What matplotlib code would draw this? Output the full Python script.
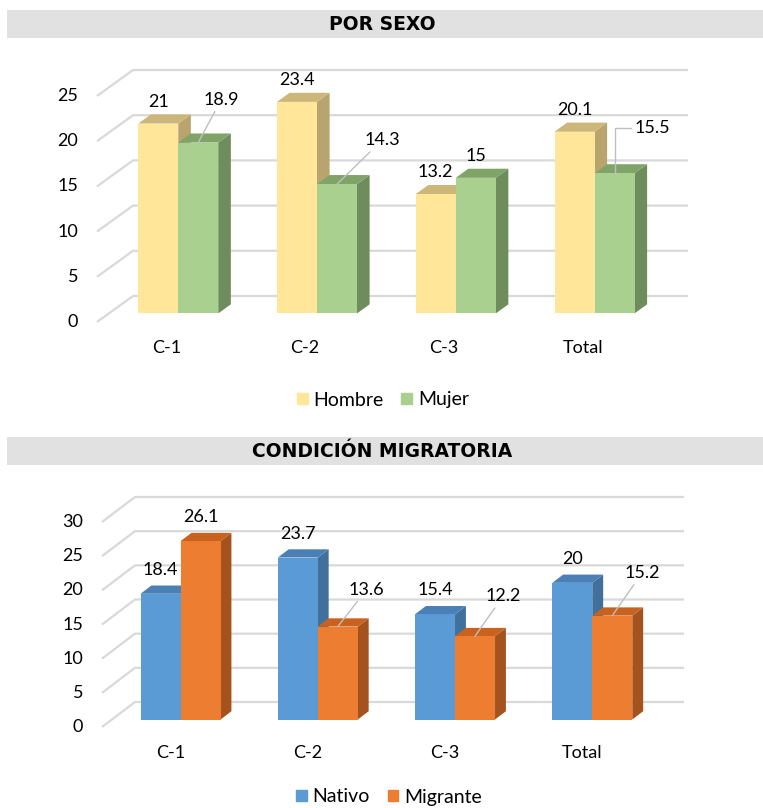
import matplotlib
matplotlib.use('Agg')
import matplotlib.pyplot as plt
from matplotlib.patches import Polygon, Rectangle, Patch

plt.rcParams['font.family'] = ['Lato', 'DejaVu Sans']

W, H = 763, 808

categories = ['C-1', 'C-2', 'C-3', 'Total']

# Por sexo
sexo_names = ['Hombre', 'Mujer']
hombre = [21, 23.4, 13.2, 20.1]
mujer = [18.9, 14.3, 15, 15.5]
sexo_ticks = [0, 5, 10, 15, 20, 25]

# Condicion migratoria
migr_names = ['Nativo', 'Migrante']
nativo = [18.4, 23.7, 15.4, 20]
migrante = [26.1, 13.6, 12.2, 15.2]
migr_ticks = [0, 5, 10, 15, 20, 25, 30]

# (front, top, side)
sexo_colors = [('#ffe699', '#cdb67a', '#b8a46c'), ('#a9d08e', '#80a468', '#6e8c5c')]
migr_colors = [('#5b9bd5', '#4a80b5', '#41709c'), ('#ed7d31', '#c8621e', '#a5531e')]

GRID = '#d9d9d9'
LEADER = '#bfbfbf'


def draw_panel(fig, title, band, box, depth, d0, d1, ticks, values, names, colors,
               leaders, lab_up, legend_xy):
    # grey title band
    fig.add_artist(Rectangle((7 / W, 1 - band[1] / H), (W - 7) / W, (band[1] - band[0]) / H,
                             transform=fig.transFigure, color='#e1e1e1', lw=0))
    fig.text(382 / W, 1 - (band[0] + band[1]) / 2 / H, title, ha='center', va='center',
             fontsize=13.5, fontweight='bold', family='DejaVu Sans')

    # box: front-left x, back-top y, back-right x, front-bottom y (pixels)
    x0, y0, x1, y1 = box
    ax = fig.add_axes([x0 / W, 1 - y1 / H, (x1 - x0) / W, (y1 - y0) / H])
    n = len(categories)
    ppx = (x1 - x0 - depth[0]) / n
    ppy = (y1 - y0 - depth[1]) / ticks[-1]
    DX = depth[0] / ppx
    DY = depth[1] / ppy
    ax.set_xlim(-0.5, n - 0.5 + DX)
    ax.set_ylim(0, ticks[-1] + DY)
    ax.axis('off')

    # back wall gridlines + side diagonals
    for t in ticks:
        ax.plot([-0.5, -0.5 + DX, n - 0.5 + DX], [t, t + DY, t + DY], color=GRID, lw=1.6,
                zorder=1, clip_on=False, solid_capstyle='butt')
        ax.annotate(str(t), (-0.5, t), xytext=(-19, 0), textcoords='offset pixels',
                    ha='right', va='center', fontsize=13)

    w = 40 / ppx
    ddx = (d1 - d0) * DX
    ddy = (d1 - d0) * DY
    yb = d0 * DY
    for i in range(n):
        for k, vals in enumerate(values):
            v = vals[i]
            xl = i - w + k * w + d0 * DX
            xr = xl + w
            yt = v + yb
            front, top, side = colors[k]
            ax.add_patch(Polygon([(xr, yb), (xr + ddx, yb + ddy), (xr + ddx, yt + ddy), (xr, yt)],
                                 closed=True, facecolor=side, edgecolor='none', zorder=2))
            ax.add_patch(Polygon([(xl, yt), (xr, yt), (xr + ddx, yt + ddy), (xl + ddx, yt + ddy)],
                                 closed=True, facecolor=top, edgecolor='none', zorder=2))
            ax.bar(xl, v, width=w, bottom=yb, align='edge', color=front, zorder=2)

            bx = xl + w / 2
            off = leaders.get((k, i))
            if off is None:
                ax.annotate(f'{v:g}', (bx, yt), xytext=(0, lab_up), textcoords='offset pixels',
                            ha='center', va='center', fontsize=13, zorder=5)
            else:
                dx, dy, style = off
                ax.annotate(f'{v:g}', (bx, yt), xytext=(dx, dy), textcoords='offset pixels',
                            ha='center', va='center', fontsize=13, zorder=5,
                            arrowprops=dict(arrowstyle='-', color=LEADER, lw=1,
                                            shrinkA=1, shrinkB=0, connectionstyle=style))

    for i, c in enumerate(categories):
        ax.annotate(c, (i, 0), xytext=(0, -26), textcoords='offset pixels',
                    ha='center', va='center', fontsize=13)

    handles = [Patch(color=col[0]) for col in colors]
    fig.legend(handles, names, loc='center', bbox_to_anchor=(legend_xy[0] / W, 1 - legend_xy[1] / H),
               ncol=2, frameon=False, fontsize=14, handlelength=0.55, handleheight=0.55,
               handletextpad=0.3, columnspacing=0.9, borderpad=0)


fig = plt.figure(figsize=(W / 100, H / 100), dpi=100)

draw_panel(fig, 'POR SEXO', (10, 38), (97, 70, 688, 322), (36, 26), 0.33, 0.68,
           sexo_ticks, [hombre, mujer], sexo_names, sexo_colors,
           {(1, 0): (23, 43, 'arc3'), (1, 1): (45, 44, 'arc3'),
            (1, 3): (38, 45, 'angle,angleA=0,angleB=90,rad=0')},
           22, (383, 400))

draw_panel(fig, 'CONDICIÓN MIGRATORIA', (437, 465), (102, 497, 684, 727), (33, 25), 0.30, 0.63,
           migr_ticks, [nativo, migrante], migr_names, migr_colors,
           {(1, 1): (29, 37, 'arc3'), (1, 2): (28, 40, 'arc3'), (1, 3): (30, 43, 'arc3')},
           24, (389, 797))

fig.savefig('out.png', dpi=100, facecolor='white')
